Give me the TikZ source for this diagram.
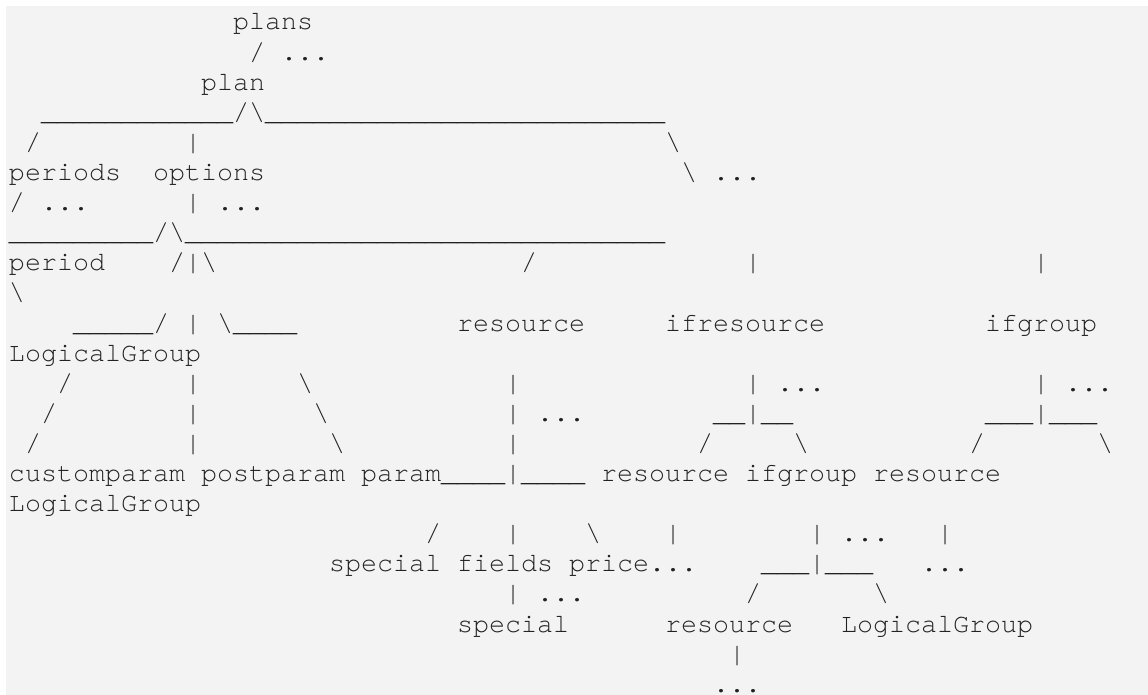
\documentclass[tikz,border=0pt]{standalone}
\usepackage{fontspec}
\newfontfamily\asc[Ligatures={NoCommon,NoRare}]{TeX Gyre Cursor}
\definecolor{bgpre}{HTML}{F3F3F3}
\definecolor{ink}{HTML}{222222}
\newcommand\usc[1]{\foreach \k in {1,...,#1}{\_}}
\newcommand\bs{\textbackslash}
\newcommand\vb{\textbar}
\newcommand\tk[4]{\node[txt] (#1) at ({9+16*#3},{-30-30.1*(#2-1)}) {#4};}
\tikzset{txt/.style={anchor=base west, inner sep=0pt, outer sep=0pt, text=ink,
  font=\asc\fontsize{26.67}{30.15}\selectfont}}
\begin{document}
\begin{tikzpicture}[x=1pt,y=1pt]
\useasboundingbox (0,0) rectangle (1148,-695);
\fill[bgpre] (6,-6) rectangle (1148,-695);
% line 1-3
\tk{plans}{1}{14}{plans}
\tk{l2a}{2}{15}{/}
\tk{l2b}{2}{17}{...}
\tk{plan}{3}{12}{plan}
% line 4
\tk{l4}{4}{2}{\usc{12}/\bs\usc{25}}
% line 5
\tk{l5a}{5}{1}{/}
\tk{l5b}{5}{11}{\vb}
\tk{l5c}{5}{41}{\bs}
% line 6
\tk{periods}{6}{0}{periods}
\tk{options}{6}{9}{options}
\tk{l6a}{6}{42}{\bs}
\tk{l6b}{6}{44}{...}
% line 7
\tk{l7a}{7}{0}{/}
\tk{l7b}{7}{2}{...}
\tk{l7c}{7}{11}{\vb}
\tk{l7d}{7}{13}{...}
% line 8
\tk{l8}{8}{0}{\usc{9}/\bs\usc{30}}
% line 9
\tk{period}{9}{0}{period}
\tk{l9a}{9}{10}{/\vb\bs}
\tk{l9b}{9}{32}{/}
\tk{l9c}{9}{46}{\vb}
\tk{l9d}{9}{64}{\vb}
% line 10
\tk{l10}{10}{0}{\bs}
% line 11
\tk{l11a}{11}{4}{\usc{5}/}
\tk{l11b}{11}{11}{\vb}
\tk{l11c}{11}{13}{\bs\usc{4}}
\tk{resA}{11}{28}{resource}
\tk{ifres}{11}{41}{ifresource}
\tk{ifgrpA}{11}{61}{ifgroup}
% line 12
\tk{lgA}{12}{0}{LogicalGroup}
% line 13
\tk{l13a}{13}{3}{/}
\tk{l13b}{13}{11}{\vb}
\tk{l13c}{13}{18}{\bs}
\tk{l13d}{13}{31}{\vb}
\tk{l13e}{13}{46}{\vb}
\tk{l13f}{13}{48}{...}
\tk{l13g}{13}{64}{\vb}
\tk{l13h}{13}{66}{...}
% line 14
\tk{l14a}{14}{2}{/}
\tk{l14b}{14}{11}{\vb}
\tk{l14c}{14}{19}{\bs}
\tk{l14d}{14}{31}{\vb}
\tk{l14e}{14}{33}{...}
\tk{l14f}{14}{44}{\usc{2}\vb\usc{2}}
\tk{l14g}{14}{61}{\usc{3}\vb\usc{3}}
% line 15
\tk{l15a}{15}{1}{/}
\tk{l15b}{15}{11}{\vb}
\tk{l15c}{15}{20}{\bs}
\tk{l15d}{15}{31}{\vb}
\tk{l15e}{15}{43}{/}
\tk{l15f}{15}{49}{\bs}
\tk{l15g}{15}{60}{/}
\tk{l15h}{15}{68}{\bs}
% line 16
\tk{custom}{16}{0}{customparam}
\tk{post}{16}{12}{postparam}
\tk{param}{16}{22}{param\usc{4}\vb\usc{4}}
\tk{resB}{16}{37}{resource}
\tk{ifgrpB}{16}{46}{ifgroup}
\tk{resC}{16}{54}{resource}
% line 17
\tk{lgB}{17}{0}{LogicalGroup}
% line 18
\tk{l18a}{18}{26}{/}
\tk{l18b}{18}{31}{\vb}
\tk{l18c}{18}{36}{\bs}
\tk{l18d}{18}{41}{\vb}
\tk{l18e}{18}{50}{\vb}
\tk{l18f}{18}{52}{...}
\tk{l18g}{18}{58}{\vb}
% line 19
\tk{specA}{19}{20}{special}
\tk{fields}{19}{28}{f{}ields}
\tk{price}{19}{35}{price...}
\tk{l19a}{19}{47}{\usc{3}\vb\usc{3}}
\tk{l19b}{19}{57}{...}
% line 20
\tk{l20a}{20}{31}{\vb}
\tk{l20b}{20}{33}{...}
\tk{l20c}{20}{46}{/}
\tk{l20d}{20}{54}{\bs}
% line 21
\tk{specB}{21}{28}{special}
\tk{resD}{21}{41}{resource}
\tk{lgC}{21}{52}{LogicalGroup}
% line 22-23
\tk{l22}{22}{45}{\vb}
\tk{l23}{23}{44}{...}
\end{tikzpicture}
\end{document}
